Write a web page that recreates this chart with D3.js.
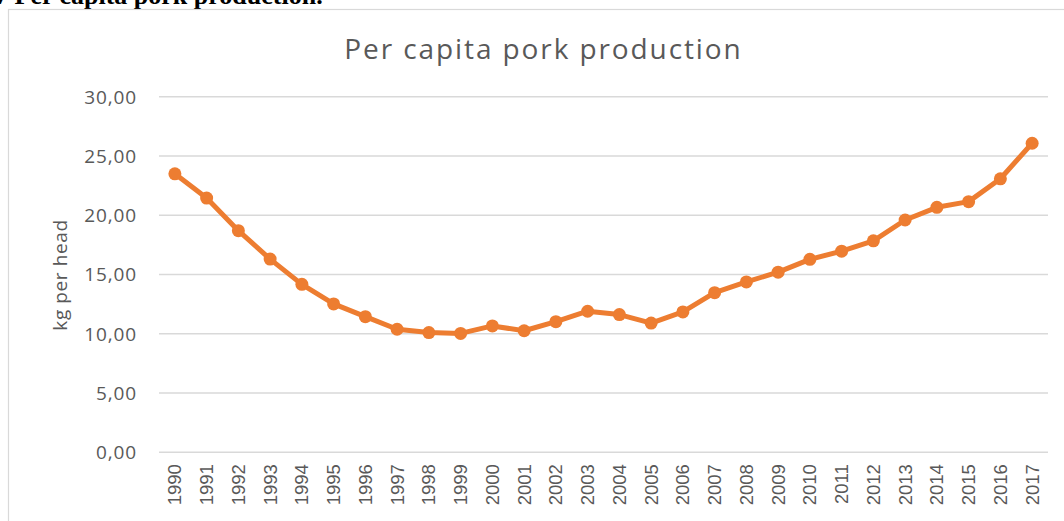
<!DOCTYPE html>
<html>
<head>
<meta charset="utf-8">
<script src="https://cdn.jsdelivr.net/npm/d3@7"></script>
<style>
  html, body { margin: 0; padding: 0; background: #fff; overflow: hidden; }
  svg { display: block; }
</style>
</head>
<body>
<svg id="chart" width="1064" height="521"></svg>
<script>
// Per capita pork production, kg per head
const years = [1990, 1991, 1992, 1993, 1994, 1995, 1996, 1997, 1998, 1999,
               2000, 2001, 2002, 2003, 2004, 2005, 2006, 2007, 2008, 2009,
               2010, 2011, 2012, 2013, 2014, 2015, 2016, 2017];
const kgPerHead = [23.5, 21.45, 18.7, 16.3, 14.17, 12.52, 11.44, 10.38, 10.1, 10.03,
                   10.66, 10.25, 11.02, 11.9, 11.62, 10.9, 11.84, 13.47, 14.37, 15.2,
                   16.28, 16.97, 17.84, 19.6, 20.67, 21.15, 23.08, 26.08];
const yTicks = [0, 5, 10, 15, 20, 25, 30];

const chartTitle = "Per capita pork production";
const yAxisTitle = "kg per head";
const captionText = "7 Per capita pork production.";

const svg = d3.select("#chart");
const fmt = v => d3.format(".2f")(v).replace(".", ",");

// figure caption above the chart frame
svg.append("text")
  .attr("x", -5).attr("y", 4)
  .attr("font-family", "Liberation Serif, serif")
  .attr("font-weight", "bold")
  .attr("font-size", 26)
  .attr("fill", "#000")
  .text(captionText);

// chart frame
svg.append("rect")
  .attr("x", 8.5).attr("y", 9.5)
  .attr("width", 1070).attr("height", 530)
  .attr("fill", "#fff")
  .attr("stroke", "#d9d9d9")
  .attr("stroke-width", 1.2);

const x = d3.scaleBand().domain(years).range([159, 1048]).padding(0);
const y = d3.scaleLinear().domain([0, 30]).range([452.2, 96.8]);

// horizontal gridlines
svg.append("g")
  .selectAll("line")
  .data(yTicks)
  .join("line")
  .attr("x1", 159).attr("x2", 1048)
  .attr("y1", d => y(d)).attr("y2", d => y(d))
  .attr("stroke", "#d9d9d9")
  .attr("stroke-width", 1.5);

// y axis tick labels
const yAxis = d3.axisLeft(y).tickValues(yTicks).tickFormat(fmt).tickSize(0).tickPadding(0);
const gy = svg.append("g").attr("transform", "translate(137,0)").call(yAxis);
gy.select(".domain").remove();
gy.selectAll("text")
  .attr("font-family", "Open Sans, sans-serif")
  .attr("font-size", 19)
  .attr("letter-spacing", 0.9)
  .attr("fill", "#595959")
  .attr("dy", "0.34em");

// x axis category labels, rotated
const xAxis = d3.axisBottom(x).tickSize(0).tickPadding(0);
const gx = svg.append("g").attr("transform", `translate(0,${y(0)})`).call(xAxis);
gx.select(".domain").remove();
gx.selectAll("text")
  .attr("font-family", "Liberation Sans, Arial, sans-serif")
  .attr("font-size", 18.5)
  .attr("fill", "#595959")
  .attr("text-anchor", "end")
  .attr("transform", "rotate(-90)")
  .attr("x", -12)
  .attr("y", 0)
  .attr("dy", "0.35em");

// chart title
svg.append("text")
  .attr("x", 543.5).attr("y", 59)
  .attr("text-anchor", "middle")
  .attr("font-family", "Open Sans, sans-serif")
  .attr("font-size", 28)
  .attr("letter-spacing", 1.9)
  .attr("fill", "#595959")
  .text(chartTitle);

// y axis title
svg.append("text")
  .attr("transform", "translate(67,275) rotate(-90)")
  .attr("text-anchor", "middle")
  .attr("font-family", "Open Sans, sans-serif")
  .attr("font-size", 19)
  .attr("letter-spacing", 0.6)
  .attr("fill", "#595959")
  .text(yAxisTitle);

const series = years.map((yr, i) => ({ yr, v: kgPerHead[i] }));
const cx = d => x(d.yr) + x.bandwidth() / 2;

// line
svg.append("path")
  .datum(series)
  .attr("fill", "none")
  .attr("stroke", "#ed7d31")
  .attr("stroke-width", 5)
  .attr("stroke-linejoin", "round")
  .attr("d", d3.line().x(cx).y(d => y(d.v)));

// markers
svg.append("g")
  .selectAll("circle")
  .data(series)
  .join("circle")
  .attr("cx", cx)
  .attr("cy", d => y(d.v))
  .attr("r", 6.5)
  .attr("fill", "#ed7d31");
</script>
</body>
</html>
